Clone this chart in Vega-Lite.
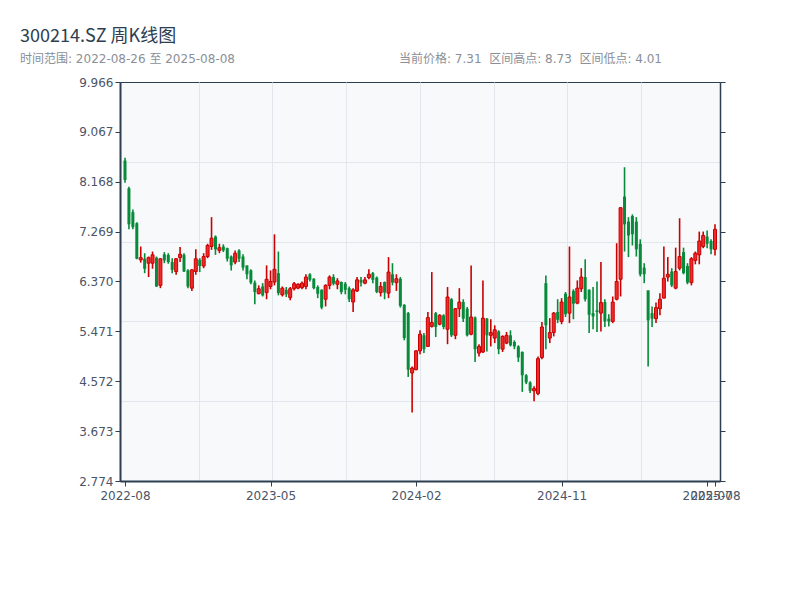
{
  "$schema": "https://vega.github.io/schema/vega-lite/v6.json",
  "width": 600,
  "height": 399,
  "autosize": {"type": "none"},
  "padding": {"left": 120, "top": 82, "right": 80, "bottom": 119},
  "background": "white",
  "config": {
    "font": "DejaVu Sans, Noto Sans CJK SC",
    "view": {"fill": "#f7f9fb", "stroke": "#2c3e50", "strokeWidth": 1},
    "axis": {"labelFont": "DejaVu Sans, Noto Sans CJK SC", "labelFontSize": 12, "labelColor": "#4a5568", "domainColor": "#2c3e50", "tickColor": "#2c3e50", "gridColor": "#e2e6ed", "gridWidth": 1}
  },
  "title": {
    "text": "300214.SZ 周K线图",
    "subtitle": "时间范围: 2022-08-26 至 2025-08-08\u00a0\u00a0\u00a0\u00a0\u00a0\u00a0\u00a0\u00a0\u00a0\u00a0\u00a0\u00a0\u00a0\u00a0\u00a0\u00a0\u00a0\u00a0\u00a0\u00a0\u00a0\u00a0\u00a0\u00a0\u00a0\u00a0\u00a0\u00a0\u00a0\u00a0\u00a0\u00a0\u00a0\u00a0\u00a0\u00a0\u00a0\u00a0\u00a0\u00a0\u00a0\u00a0\u00a0当前价格: 7.31\u00a0\u00a0区间高点: 8.73\u00a0\u00a0区间低点: 4.01",
    "anchor": "start",
    "frame": "group",
    "dx": -100,
    "offset": 11,
    "font": "Noto Sans CJK SC",
    "fontSize": 18,
    "fontWeight": "normal",
    "color": "#2c3e50",
    "subtitleFont": "DejaVu Sans, Noto Sans CJK SC",
    "subtitleFontSize": 12,
    "subtitleColor": "#8a8f98",
    "subtitlePadding": 8
  },
  "data": {"values": [
    {"date":"2022-08-26","open":8.55,"high":8.60,"low":8.15,"close":8.20},
    {"date":"2022-09-02","open":8.05,"high":8.08,"low":7.31,"close":7.40},
    {"date":"2022-09-09","open":7.62,"high":7.67,"low":7.31,"close":7.35},
    {"date":"2022-09-16","open":7.42,"high":7.44,"low":6.77,"close":6.78},
    {"date":"2022-09-23","open":6.76,"high":7.00,"low":6.71,"close":6.80},
    {"date":"2022-09-30","open":6.78,"high":6.88,"low":6.52,"close":6.60},
    {"date":"2022-10-14","open":6.70,"high":6.82,"low":6.45,"close":6.80},
    {"date":"2022-10-21","open":6.70,"high":6.91,"low":6.60,"close":6.85},
    {"date":"2022-10-28","open":6.80,"high":6.82,"low":6.27,"close":6.28},
    {"date":"2022-11-04","open":6.30,"high":6.79,"low":6.25,"close":6.78},
    {"date":"2022-11-11","open":6.86,"high":6.90,"low":6.70,"close":6.75},
    {"date":"2022-11-18","open":6.85,"high":6.88,"low":6.69,"close":6.72},
    {"date":"2022-11-25","open":6.72,"high":6.79,"low":6.52,"close":6.58},
    {"date":"2022-12-02","open":6.55,"high":6.79,"low":6.49,"close":6.78},
    {"date":"2022-12-09","open":6.80,"high":6.99,"low":6.72,"close":6.86},
    {"date":"2022-12-16","open":6.85,"high":6.88,"low":6.54,"close":6.55},
    {"date":"2022-12-23","open":6.57,"high":6.59,"low":6.25,"close":6.28},
    {"date":"2022-12-30","open":6.25,"high":6.59,"low":6.20,"close":6.58},
    {"date":"2023-01-06","open":6.55,"high":6.95,"low":6.49,"close":6.78},
    {"date":"2023-01-13","open":6.76,"high":6.79,"low":6.54,"close":6.65},
    {"date":"2023-01-20","open":6.65,"high":6.88,"low":6.61,"close":6.82},
    {"date":"2023-02-03","open":6.82,"high":7.05,"low":6.79,"close":7.02},
    {"date":"2023-02-10","open":7.00,"high":7.53,"low":6.94,"close":7.15},
    {"date":"2023-02-17","open":7.18,"high":7.20,"low":6.85,"close":6.95},
    {"date":"2023-02-24","open":6.93,"high":7.05,"low":6.88,"close":6.98},
    {"date":"2023-03-03","open":7.00,"high":7.04,"low":6.90,"close":6.93},
    {"date":"2023-03-10","open":6.97,"high":6.98,"low":6.73,"close":6.78},
    {"date":"2023-03-17","open":6.82,"high":6.84,"low":6.57,"close":6.66},
    {"date":"2023-03-24","open":6.72,"high":6.93,"low":6.68,"close":6.88},
    {"date":"2023-03-31","open":6.93,"high":6.95,"low":6.72,"close":6.78},
    {"date":"2023-04-07","open":6.82,"high":6.86,"low":6.57,"close":6.62},
    {"date":"2023-04-14","open":6.66,"high":6.66,"low":6.41,"close":6.50},
    {"date":"2023-04-21","open":6.57,"high":6.59,"low":6.32,"close":6.35},
    {"date":"2023-04-28","open":6.35,"high":6.39,"low":5.96,"close":6.18},
    {"date":"2023-05-05","open":6.15,"high":6.30,"low":6.14,"close":6.24},
    {"date":"2023-05-12","open":6.28,"high":6.34,"low":6.10,"close":6.12},
    {"date":"2023-05-19","open":6.17,"high":6.66,"low":6.05,"close":6.41},
    {"date":"2023-05-26","open":6.28,"high":6.57,"low":6.23,"close":6.37},
    {"date":"2023-06-02","open":6.36,"high":7.22,"low":6.30,"close":6.59},
    {"date":"2023-06-09","open":6.52,"high":6.91,"low":6.12,"close":6.16},
    {"date":"2023-06-16","open":6.13,"high":6.28,"low":6.10,"close":6.25},
    {"date":"2023-06-21","open":6.22,"high":6.27,"low":6.09,"close":6.14},
    {"date":"2023-06-30","open":6.08,"high":6.27,"low":6.03,"close":6.24},
    {"date":"2023-07-07","open":6.24,"high":6.36,"low":6.21,"close":6.33},
    {"date":"2023-07-14","open":6.25,"high":6.34,"low":6.23,"close":6.32},
    {"date":"2023-07-21","open":6.26,"high":6.37,"low":6.23,"close":6.34},
    {"date":"2023-07-28","open":6.28,"high":6.50,"low":6.23,"close":6.45},
    {"date":"2023-08-04","open":6.50,"high":6.52,"low":6.37,"close":6.40},
    {"date":"2023-08-11","open":6.42,"high":6.43,"low":6.23,"close":6.25},
    {"date":"2023-08-18","open":6.27,"high":6.30,"low":6.07,"close":6.15},
    {"date":"2023-08-25","open":6.22,"high":6.23,"low":5.87,"close":5.90},
    {"date":"2023-09-01","open":6.05,"high":6.32,"low":5.92,"close":6.30},
    {"date":"2023-09-08","open":6.30,"high":6.48,"low":6.23,"close":6.45},
    {"date":"2023-09-15","open":6.45,"high":6.50,"low":6.30,"close":6.33},
    {"date":"2023-09-22","open":6.32,"high":6.43,"low":6.23,"close":6.38},
    {"date":"2023-09-28","open":6.36,"high":6.37,"low":6.14,"close":6.18},
    {"date":"2023-10-13","open":6.33,"high":6.36,"low":6.14,"close":6.22},
    {"date":"2023-10-20","open":6.25,"high":6.28,"low":6.00,"close":6.05},
    {"date":"2023-10-27","open":6.00,"high":6.25,"low":5.82,"close":6.22},
    {"date":"2023-11-03","open":6.20,"high":6.45,"low":6.18,"close":6.40},
    {"date":"2023-11-10","open":6.40,"high":6.45,"low":6.28,"close":6.35},
    {"date":"2023-11-17","open":6.34,"high":6.45,"low":6.32,"close":6.40},
    {"date":"2023-11-24","open":6.44,"high":6.59,"low":6.41,"close":6.50},
    {"date":"2023-12-01","open":6.52,"high":6.54,"low":6.34,"close":6.40},
    {"date":"2023-12-08","open":6.44,"high":6.46,"low":6.16,"close":6.18},
    {"date":"2023-12-15","open":6.17,"high":6.36,"low":6.10,"close":6.28},
    {"date":"2023-12-22","open":6.36,"high":6.37,"low":6.05,"close":6.17},
    {"date":"2023-12-29","open":6.16,"high":6.81,"low":6.07,"close":6.54},
    {"date":"2024-01-05","open":6.50,"high":6.70,"low":6.30,"close":6.35},
    {"date":"2024-01-12","open":6.35,"high":6.50,"low":6.20,"close":6.42},
    {"date":"2024-01-19","open":6.42,"high":6.45,"low":5.90,"close":5.93},
    {"date":"2024-01-26","open":5.95,"high":5.96,"low":5.31,"close":5.35},
    {"date":"2024-02-02","open":5.80,"high":5.82,"low":4.65,"close":4.78},
    {"date":"2024-02-08","open":4.72,"high":4.84,"low":4.01,"close":4.81},
    {"date":"2024-02-23","open":4.78,"high":5.13,"low":4.77,"close":5.12},
    {"date":"2024-03-01","open":5.12,"high":5.49,"low":5.06,"close":5.42},
    {"date":"2024-03-08","open":5.40,"high":5.44,"low":5.08,"close":5.15},
    {"date":"2024-03-15","open":5.20,"high":5.82,"low":5.19,"close":5.72},
    {"date":"2024-03-22","open":5.56,"high":6.54,"low":5.54,"close":5.63},
    {"date":"2024-03-29","open":5.80,"high":5.82,"low":5.37,"close":5.55},
    {"date":"2024-04-03","open":5.60,"high":5.78,"low":5.58,"close":5.76},
    {"date":"2024-04-12","open":5.76,"high":5.78,"low":5.51,"close":5.55},
    {"date":"2024-04-19","open":5.51,"high":6.27,"low":5.24,"close":6.09},
    {"date":"2024-04-26","open":6.05,"high":6.07,"low":5.37,"close":5.40},
    {"date":"2024-04-30","open":5.40,"high":5.89,"low":5.33,"close":5.88},
    {"date":"2024-05-10","open":5.88,"high":6.25,"low":5.73,"close":6.00},
    {"date":"2024-05-17","open":6.00,"high":6.05,"low":5.64,"close":5.70},
    {"date":"2024-05-24","open":5.88,"high":5.91,"low":5.38,"close":5.40},
    {"date":"2024-05-31","open":5.42,"high":6.66,"low":5.40,"close":5.73},
    {"date":"2024-06-07","open":5.72,"high":5.74,"low":4.92,"close":5.15},
    {"date":"2024-06-14","open":5.08,"high":5.24,"low":5.02,"close":5.20},
    {"date":"2024-06-21","open":5.10,"high":6.39,"low":5.08,"close":5.71},
    {"date":"2024-06-28","open":5.70,"high":5.71,"low":5.11,"close":5.40},
    {"date":"2024-07-05","open":5.40,"high":5.69,"low":5.20,"close":5.45},
    {"date":"2024-07-12","open":5.35,"high":5.58,"low":5.26,"close":5.50},
    {"date":"2024-07-19","open":5.47,"high":5.49,"low":5.06,"close":5.15},
    {"date":"2024-07-26","open":5.15,"high":5.40,"low":5.10,"close":5.38},
    {"date":"2024-08-02","open":5.26,"high":5.46,"low":5.24,"close":5.40},
    {"date":"2024-08-09","open":5.40,"high":5.49,"low":5.20,"close":5.22},
    {"date":"2024-08-16","open":5.28,"high":5.31,"low":5.15,"close":5.20},
    {"date":"2024-08-23","open":5.20,"high":5.22,"low":4.92,"close":5.00},
    {"date":"2024-08-30","open":5.10,"high":5.11,"low":4.38,"close":4.68},
    {"date":"2024-09-06","open":4.68,"high":4.70,"low":4.52,"close":4.55},
    {"date":"2024-09-13","open":4.55,"high":4.57,"low":4.36,"close":4.40},
    {"date":"2024-09-20","open":4.40,"high":4.48,"low":4.21,"close":4.44},
    {"date":"2024-09-27","open":4.35,"high":5.02,"low":4.32,"close":4.98},
    {"date":"2024-09-30","open":5.00,"high":5.64,"low":4.97,"close":5.55},
    {"date":"2024-10-11","open":6.34,"high":6.48,"low":5.15,"close":5.58},
    {"date":"2024-10-18","open":5.35,"high":5.71,"low":5.26,"close":5.45},
    {"date":"2024-10-25","open":5.45,"high":5.82,"low":5.38,"close":5.80},
    {"date":"2024-11-01","open":5.82,"high":6.05,"low":5.62,"close":5.68},
    {"date":"2024-11-08","open":5.65,"high":6.07,"low":5.60,"close":6.00},
    {"date":"2024-11-15","open":6.15,"high":6.18,"low":5.73,"close":5.78},
    {"date":"2024-11-22","open":5.80,"high":7.00,"low":5.62,"close":6.09},
    {"date":"2024-11-29","open":6.20,"high":6.23,"low":5.69,"close":5.97},
    {"date":"2024-12-06","open":5.98,"high":6.39,"low":5.96,"close":6.25},
    {"date":"2024-12-13","open":6.24,"high":6.61,"low":6.18,"close":6.45},
    {"date":"2024-12-20","open":6.45,"high":6.77,"low":6.01,"close":6.05},
    {"date":"2024-12-27","open":6.22,"high":6.23,"low":5.44,"close":5.77},
    {"date":"2025-01-03","open":5.80,"high":6.27,"low":5.51,"close":5.74},
    {"date":"2025-01-10","open":5.85,"high":6.37,"low":5.46,"close":5.82},
    {"date":"2025-01-17","open":5.80,"high":6.72,"low":5.47,"close":5.99},
    {"date":"2025-01-24","open":6.00,"high":6.05,"low":5.55,"close":5.65},
    {"date":"2025-01-27","open":5.70,"high":5.78,"low":5.56,"close":5.65},
    {"date":"2025-02-07","open":5.65,"high":6.10,"low":5.62,"close":6.00},
    {"date":"2025-02-14","open":6.05,"high":7.06,"low":6.03,"close":6.37},
    {"date":"2025-02-21","open":6.41,"high":7.71,"low":6.10,"close":7.70},
    {"date":"2025-02-28","open":7.90,"high":8.43,"low":6.91,"close":7.40},
    {"date":"2025-03-07","open":7.45,"high":7.53,"low":6.81,"close":7.20},
    {"date":"2025-03-14","open":7.55,"high":7.58,"low":7.02,"close":7.22},
    {"date":"2025-03-21","open":7.45,"high":7.53,"low":6.82,"close":6.95},
    {"date":"2025-03-28","open":7.05,"high":7.13,"low":6.46,"close":6.50},
    {"date":"2025-04-03","open":6.62,"high":6.70,"low":6.34,"close":6.50},
    {"date":"2025-04-11","open":6.21,"high":6.21,"low":4.84,"close":5.67},
    {"date":"2025-04-18","open":5.80,"high":5.92,"low":5.55,"close":5.70},
    {"date":"2025-04-25","open":5.70,"high":5.99,"low":5.62,"close":5.90},
    {"date":"2025-04-30","open":5.88,"high":6.16,"low":5.76,"close":6.05},
    {"date":"2025-05-09","open":6.07,"high":7.00,"low":6.07,"close":6.43},
    {"date":"2025-05-16","open":6.45,"high":6.81,"low":6.37,"close":6.50},
    {"date":"2025-05-23","open":6.55,"high":6.61,"low":6.27,"close":6.30},
    {"date":"2025-05-30","open":6.25,"high":6.98,"low":6.23,"close":6.55},
    {"date":"2025-06-06","open":6.61,"high":7.51,"low":6.57,"close":6.82},
    {"date":"2025-06-13","open":6.90,"high":6.98,"low":6.50,"close":6.52},
    {"date":"2025-06-20","open":6.65,"high":6.70,"low":6.32,"close":6.35},
    {"date":"2025-06-27","open":6.35,"high":6.81,"low":6.30,"close":6.78},
    {"date":"2025-07-04","open":6.75,"high":6.91,"low":6.68,"close":6.88},
    {"date":"2025-07-11","open":6.85,"high":7.27,"low":6.68,"close":7.10},
    {"date":"2025-07-18","open":7.00,"high":7.27,"low":6.97,"close":7.20},
    {"date":"2025-07-25","open":7.18,"high":7.29,"low":6.97,"close":7.05},
    {"date":"2025-08-01","open":7.10,"high":7.13,"low":6.86,"close":6.95},
    {"date":"2025-08-08","open":6.95,"high":7.40,"low":6.84,"close":7.31}
  ]},
  "transform": [{"window": [{"op": "row_number", "as": "n"}]}],
  "layer": [
    {
      "mark": {"type": "rule", "strokeWidth": 1.6, "clip": true},
      "encoding": {
        "x": {"field": "n", "type": "quantitative", "scale": {"domain": [1, 151], "nice": false, "zero": false},
              "axis": {"orient": "bottom", "values": [19.75, 38.5, 57.25, 76, 94.75, 113.5, 132.25], "grid": true, "labels": false, "ticks": false, "domain": false, "title": null}},
        "y": {"field": "low", "type": "quantitative", "scale": {"domain": [2.774, 9.966], "nice": false, "zero": false},
              "axis": {"orient": "left", "values": [4.2124, 5.6508, 7.0892, 8.5276], "grid": true, "labels": false, "ticks": false, "domain": false, "title": null}},
        "y2": {"field": "high"},
        "color": {"condition": {"test": "datum.close >= datum.open", "value": "#cc0000"}, "value": "#078a3a"}
      }
    },
    {
      "mark": {"type": "bar", "size": 3, "clip": true},
      "encoding": {
        "x": {"field": "n", "type": "quantitative",
              "axis": {"orient": "bottom", "values": [1, 38, 75, 112, 149, 151], "labelExpr": "datum.value == 1 ? '2022-08' : datum.value == 38 ? '2023-05' : datum.value == 75 ? '2024-02' : datum.value == 112 ? '2024-11' : datum.value == 149 ? '2025-07' : '2025-08'",
                       "grid": false, "title": null, "domainWidth": 2, "tickSize": 5, "labelPadding": 4, "labelOverlap": false, "labelFlush": false, "labelBound": false}},
        "y": {"field": "open", "type": "quantitative",
              "axis": {"orient": "left", "values": [2.774, 3.673, 4.572, 5.471, 6.370, 7.269, 8.168, 9.067, 9.966], "format": ".3f", "grid": false, "title": null, "domainWidth": 2, "tickSize": 5, "labelPadding": 2}},
        "y2": {"field": "close"},
        "color": {"condition": {"test": "datum.close >= datum.open", "value": "#ee2a2a"}, "value": "#078a3a"}
      }
    },
    {
      "transform": [{"filter": "datum.close >= datum.open"}],
      "mark": {"type": "bar", "size": 3, "filled": false, "stroke": "#c80000", "strokeWidth": 1, "clip": true},
      "encoding": {
        "x": {"field": "n", "type": "quantitative", "axis": null},
        "y": {"field": "open", "type": "quantitative",
              "axis": {"orient": "right", "values": [2.774, 3.673, 4.572, 5.471, 6.370, 7.269, 8.168, 9.067, 9.966], "labels": false, "grid": false, "title": null, "domainWidth": 1.5, "tickSize": 5}},
        "y2": {"field": "close"}
      }
    }
  ],
  "resolve": {"axis": {"x": "independent", "y": "independent"}}
}
